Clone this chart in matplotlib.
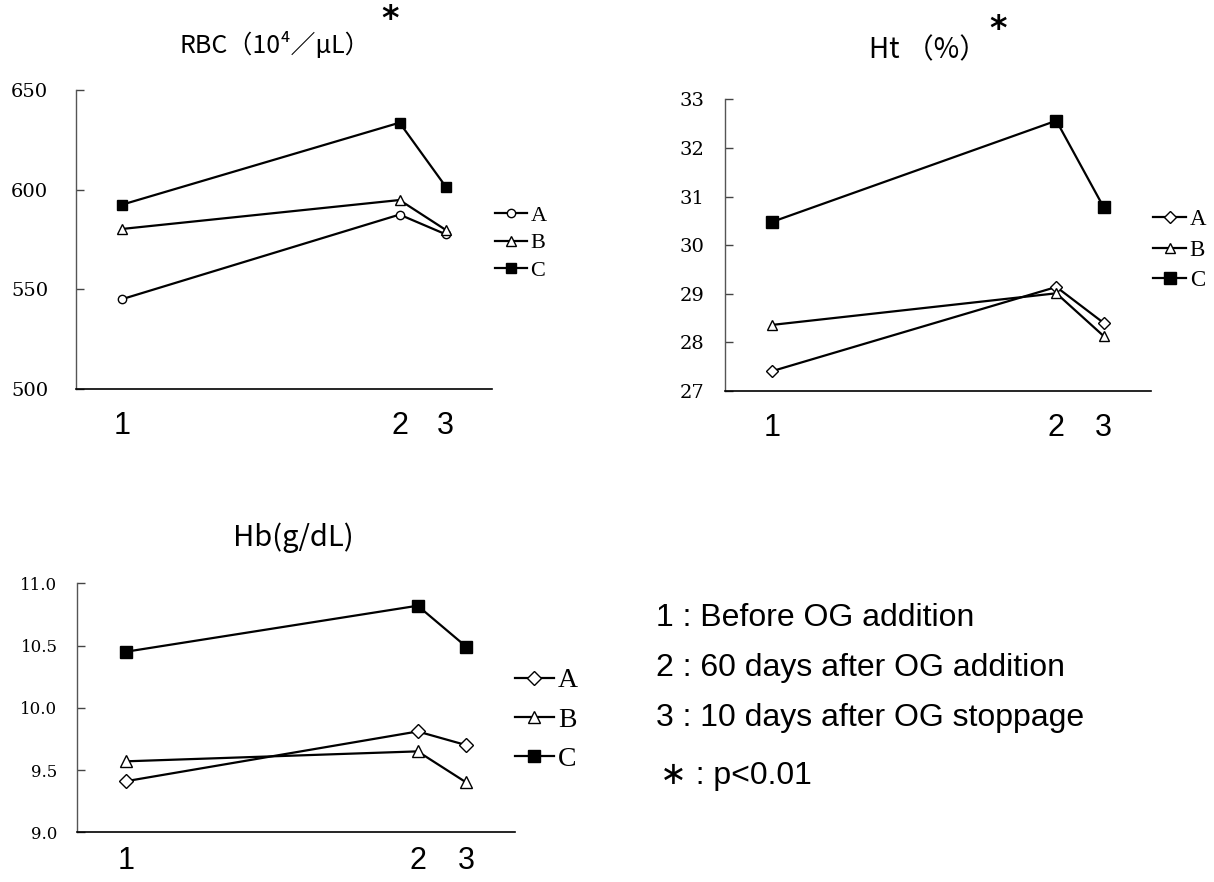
import matplotlib
matplotlib.use("Agg")
import matplotlib.pyplot as plt

# data (x = days: before, 60 days after addition, 10 days after stoppage)
days = [0, 60, 70]
point_labels = ["1", "2", "3"]
groups = ["A", "B", "C"]

rbc_a = [545.1, 587.5, 577.6]
rbc_b = [580.3, 594.8, 579.8]
rbc_c = [592.5, 633.6, 601.5]

ht_a = [27.41, 29.14, 28.40]
ht_b = [28.36, 29.01, 28.13]
ht_c = [30.48, 32.56, 30.78]

hb_a = [9.41, 9.81, 9.70]
hb_b = [9.57, 9.65, 9.40]
hb_c = [10.45, 10.82, 10.49]

notes = ["1 : Before OG addition",
         "2 : 60 days after OG addition",
         "3 : 10 days after OG stoppage",
         "\u2217 : p<0.01"]

W, H = 1214, 882
fig = plt.figure(figsize=(W / 100, H / 100), dpi=100)

serif = "DejaVu Serif"
cjk = ["Noto Sans CJK JP", "DejaVu Sans"]


def px(x, y):
    return x / W, 1 - y / H


def panel(rect, a, b, c, markers, msizes, ylim, yticks, yfmt, yfont, ypad,
          xpad, legfont, leg_anchor, handlelen, labelspacing):
    ax = fig.add_axes(rect)
    for vals, m, ms, g in zip([a, b, c], markers, msizes, groups):
        face = "black" if g == "C" else "white"
        ax.plot(days, vals, color="black", lw=1.6, marker=m, ms=ms,
                mfc=face, mec="black", mew=1.0, label=g)
    ax.set_xlim(-10, 80)
    ax.set_ylim(*ylim)
    ax.set_yticks(yticks)
    ax.set_yticklabels([yfmt.format(v) for v in yticks], fontfamily=serif,
                       fontsize=yfont)
    ax.set_xticks(days)
    ax.set_xticklabels(point_labels, fontfamily="Liberation Sans", fontsize=22)
    ax.tick_params(axis="x", length=0, pad=xpad)
    ax.tick_params(axis="y", direction="in", length=6, width=1, pad=ypad,
                   colors="#444444", labelcolor="black")
    for s in ["top", "right"]:
        ax.spines[s].set_visible(False)
    ax.spines["left"].set_color("#555555")
    ax.spines["left"].set_linewidth(1.0)
    ax.spines["bottom"].set_linewidth(1.2)
    ax.legend(loc="center left", bbox_to_anchor=leg_anchor, frameon=False,
              prop={"family": "Liberation Serif", "size": legfont},
              handlelength=handlelen, handletextpad=0.15,
              labelspacing=labelspacing, borderpad=0, borderaxespad=0)
    return ax


panel([76 / W, 1 - 389 / H, 416 / W, 299 / H], rbc_a, rbc_b, rbc_c,
      ["o", "^", "s"], [6, 6.5, 7.5], (500, 650), [500, 550, 600, 650],
      "{:.0f}", 14, 20, 16, 16, (1.007, 0.488), 1.45, 0.3)

panel([725 / W, 1 - 391 / H, 426 / W, 291.7 / H], ht_a, ht_b, ht_c,
      ["D", "^", "s"], [6, 7.5, 8], (27, 33), [27, 28, 29, 30, 31, 32, 33],
      "{:.0f}", 14, 15, 16, 16.5, (1.005, 0.483), 1.45, 0.4)

panel([77 / W, 1 - 832.3 / H, 438 / W, 249 / H], hb_a, hb_b, hb_c,
      ["D", "^", "s"], [7.5, 9, 9], (9.0, 11.0), [9.0, 9.5, 10.0, 10.5, 11.0],
      "{:.1f}", 12, 14, 10, 20, (1.0, 0.451), 1.4, 0.5)

# titles
fig.text(*px(275, 45), "RBC（10⁴／μL）", family=cjk, fontsize=18,
         ha="center", va="center")
fig.text(*px(390, 20), "*", family="DejaVu Sans", fontsize=24,
         fontweight="bold", ha="center", va="center")
fig.text(*px(928, 50), "Ht （%）", family=cjk, fontsize=20,
         ha="center", va="center")
fig.text(*px(998, 30), "*", family="DejaVu Sans", fontsize=24,
         fontweight="bold", ha="center", va="center")
fig.text(*px(293, 538), "Hb(g/dL)", family=cjk, fontsize=21,
         ha="center", va="center")

# explanation of time points
for i, (txt, y) in enumerate(zip(notes, [618, 668, 718, 776])):
    fig.text(*px(656 if i < 3 else 660, y), txt,
             family=["Liberation Sans", "DejaVu Sans"], fontsize=23,
             ha="left", va="center")

fig.savefig("out.png", dpi=100, facecolor="white")
